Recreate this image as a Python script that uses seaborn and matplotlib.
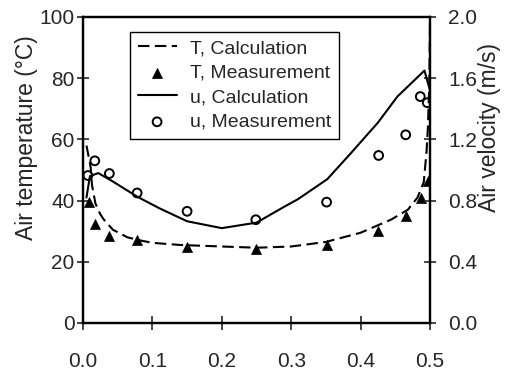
import numpy as np
import pandas as pd
import matplotlib
matplotlib.use("Agg")
import matplotlib.pyplot as plt
import seaborn as sns

# Distance from the wall (m) and calculated air temperature (°C)
x_t_calc = [0.005, 0.011, 0.013, 0.018, 0.025, 0.030, 0.043, 0.064, 0.080, 0.100,
            0.140, 0.200, 0.250, 0.300, 0.350, 0.400, 0.444, 0.468, 0.482, 0.491,
            0.495, 0.497, 0.499, 0.500]
t_calc = [58.0, 51.0, 45.0, 39.0, 35.5, 33.8, 30.5, 28.0, 27.1, 26.2,
          25.5, 25.0, 24.6, 25.0, 26.5, 29.5, 33.8, 37.0, 41.0, 46.0,
          56.0, 64.0, 78.0, 98.0]

# Measured air temperature (°C)
x_t_meas = [0.008, 0.017, 0.038, 0.078, 0.150, 0.250, 0.351, 0.425, 0.465, 0.487, 0.497]
t_meas = [39.5, 32.5, 28.5, 27.0, 25.0, 24.3, 25.6, 30.2, 35.0, 41.0, 46.5]

# Calculated air velocity (m/s)
x_u_calc = [0.005, 0.010, 0.022, 0.043, 0.078, 0.110, 0.150, 0.200, 0.250, 0.290,
            0.310, 0.352, 0.386, 0.425, 0.453, 0.492, 0.500]
u_calc = [0.82, 0.96, 0.98, 0.925, 0.826, 0.75, 0.665, 0.62, 0.656, 0.76,
          0.81, 0.94, 1.11, 1.31, 1.48, 1.65, 1.52]

# Measured air velocity (m/s)
x_u_meas = [0.007, 0.017, 0.038, 0.078, 0.150, 0.249, 0.351, 0.426, 0.465, 0.486, 0.496]
u_meas = [0.964, 1.06, 0.977, 0.85, 0.73, 0.675, 0.79, 1.095, 1.23, 1.48, 1.44]

x_ticks = [0.0, 0.1, 0.2, 0.3, 0.4, 0.5]
t_ticks = [0, 20, 40, 60, 80, 100]
u_ticks = [0.0, 0.4, 0.8, 1.2, 1.6, 2.0]

sns.set_style("ticks")
plt.rcParams["font.family"] = ["Liberation Sans", "DejaVu Sans"]

fig = plt.figure(figsize=(5.06, 3.73), dpi=100)
ax = fig.add_axes([83 / 506, 50 / 373, 347 / 506, 306 / 373])
ax2 = ax.twinx()

dash = (0, (5.5, 2.6))
sns.lineplot(x=x_t_calc, y=t_calc, ax=ax, color="black", lw=1.5, linestyle=dash,
             estimator=None, sort=False, label="T, Calculation", legend=False)
sns.scatterplot(x=x_t_meas, y=t_meas, ax=ax, marker="^", s=52, color="black",
                edgecolor="black", linewidth=0.5, zorder=3, label="T, Measurement",
                legend=False)
sns.lineplot(x=x_u_calc, y=u_calc, ax=ax2, color="black", lw=1.5,
             estimator=None, sort=False, label="u, Calculation", legend=False)
sns.scatterplot(x=x_u_meas, y=u_meas, ax=ax2, marker="o", s=40, color="black",
                linewidth=1.4, zorder=3, label="u, Measurement", legend=False)
circles = ax2.collections[-1]
circles.set_facecolor("none")
circles.set_edgecolor("black")

ax.set_xlim(0, 0.5)
ax.set_ylim(0, 100)
ax2.set_ylim(0, 2.0)
ax.set_xticks(x_ticks)
ax.set_xticklabels([f"{v:.1f}" for v in x_ticks])
ax.set_yticks(t_ticks)
ax.set_yticklabels([str(v) for v in t_ticks])
ax2.set_yticks(u_ticks)
ax2.set_yticklabels([f"{v:.1f}" for v in u_ticks])

ax.tick_params(axis="y", direction="inout", length=8, width=1.2, labelsize=15, pad=2)
ax.tick_params(axis="x", direction="inout", length=10, width=1.2, labelsize=15, pad=16)
ax2.tick_params(axis="y", direction="inout", length=8, width=1.2, labelsize=15, pad=9)
for a in (ax, ax2):
    for sp in a.spines.values():
        sp.set_visible(True)
        sp.set_color("black")
        sp.set_linewidth(1.6)

ax.set_ylabel("Air temperature (°C)", fontsize=16.5)
ax.yaxis.set_label_coords(-0.130, 0.605)
ax2.set_ylabel("Air velocity (m/s)", fontsize=16.5)
ax2.yaxis.set_label_coords(1.138, 0.64)
ax.set_xlabel("")

h1, l1 = ax.get_legend_handles_labels()
h2, l2 = ax2.get_legend_handles_labels()
leg = ax2.legend(h1 + h2, l1 + l2, loc="upper left", bbox_to_anchor=(0.135, 0.952),
                 borderaxespad=0, fontsize=14, frameon=True, fancybox=False,
                 framealpha=1, edgecolor="black", handlelength=2.0,
                 handletextpad=0.7, labelspacing=0.36, borderpad=0.4)
leg.get_frame().set_linewidth(1.0)

fig.savefig("out.png", dpi=100)
